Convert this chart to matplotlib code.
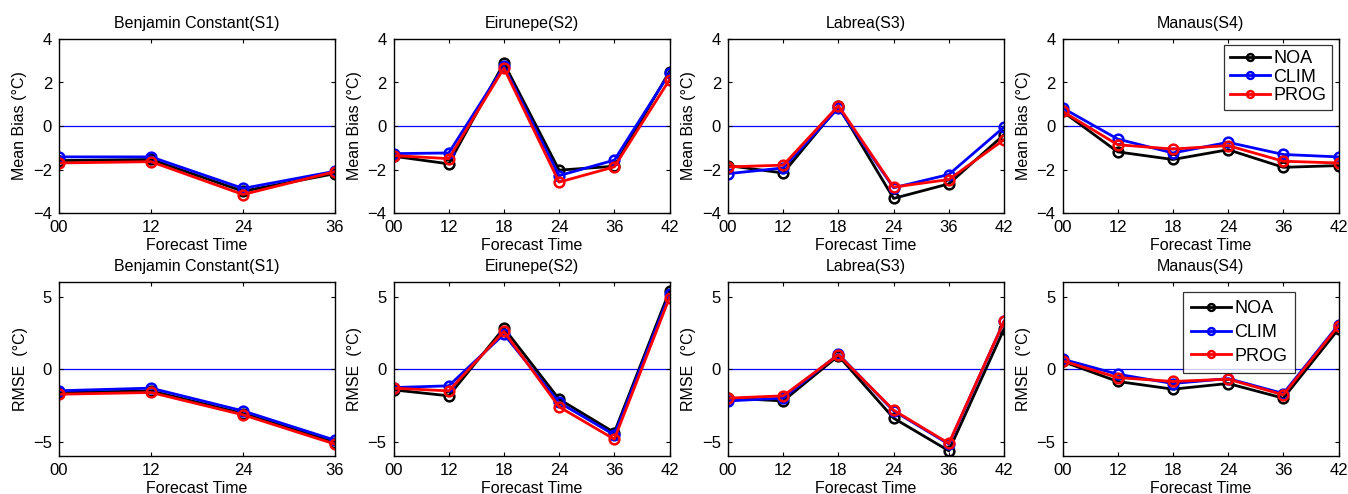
import numpy as np
import matplotlib
matplotlib.use("Agg")
import matplotlib.pyplot as plt

plt.rcParams["font.family"] = ["Liberation Sans", "DejaVu Sans"]

# station names
stations = ["Benjamin Constant(S1)", "Eirunepe(S2)", "Labrea(S3)", "Manaus(S4)"]

# forecast hours per station (S1 has fewer lead times)
hours_s1 = ["00", "12", "24", "36"]
hours_all = ["00", "12", "18", "24", "36", "42"]

# mean bias (°C)
bias_noa = [
    [-1.59, -1.54, -3.00, -2.19],
    [-1.39, -1.74, 2.89, -2.03, -1.85, 2.50],
    [-1.82, -2.16, 0.90, -3.33, -2.66, -0.40],
    [0.67, -1.19, -1.54, -1.09, -1.90, -1.82],
]
bias_clim = [
    [-1.42, -1.42, -2.87, -2.08],
    [-1.27, -1.24, 2.74, -2.28, -1.57, 2.43],
    [-2.19, -1.93, 0.83, -2.84, -2.23, -0.05],
    [0.83, -0.60, -1.24, -0.75, -1.31, -1.42],
]
bias_prog = [
    [-1.70, -1.64, -3.15, -2.10],
    [-1.36, -1.50, 2.66, -2.58, -1.88, 2.13],
    [-1.88, -1.80, 0.93, -2.81, -2.46, -0.63],
    [0.67, -0.86, -1.06, -0.90, -1.62, -1.70],
]

# RMSE (°C)
rmse_noa = [
    [-1.62, -1.51, -3.07, -5.07],
    [-1.44, -1.85, 2.82, -2.08, -4.38, 5.39],
    [-2.01, -2.20, 0.91, -3.39, -5.64, 2.75],
    [0.52, -0.86, -1.39, -1.00, -2.01, 2.75],
]
rmse_clim = [
    [-1.50, -1.32, -2.89, -4.91],
    [-1.28, -1.16, 2.40, -2.31, -4.54, 5.16],
    [-2.20, -2.01, 1.02, -2.89, -5.18, 3.28],
    [0.68, -0.36, -1.00, -0.66, -1.69, 3.05],
]
rmse_prog = [
    [-1.74, -1.62, -3.16, -5.18],
    [-1.32, -1.51, 2.59, -2.61, -4.84, 4.93],
    [-2.01, -1.85, 0.98, -2.84, -5.13, 3.28],
    [0.56, -0.59, -0.86, -0.70, -1.78, 2.98],
]

series_names = ["NOA", "CLIM", "PROG"]
series_colors = ["black", "#0000ff", "#ff0000"]

W, H = 1348, 494
fig = plt.figure(figsize=(W / 100, H / 100), dpi=100)

left0, width, pitch = 59 / W, 276 / W, 334.5 / W
row_bottoms = [1 - 213 / H, 1 - 456 / H]
height = 174 / H


def draw_panel(ax, hours, curves, ylim, yticks, ylabel, title):
    x = np.arange(len(hours))
    for vals, name, col in zip(curves, series_names, series_colors):
        ax.plot(x, vals, color=col, lw=2, marker="o", ms=7, mfc="none",
                mew=1.8, label=name)
    ax.axhline(0, color="#0000ff", lw=0.9, zorder=0)
    ax.set_xlim(0, len(hours) - 1)
    ax.set_ylim(*ylim)
    ax.set_xticks(x)
    ax.set_xticklabels(hours)
    ax.set_yticks(yticks)
    ax.set_yticklabels([str(v).replace("-", "\u2212") for v in yticks])
    ax.tick_params(direction="in", top=True, right=True, labelsize=12,
                   length=3, width=0.8)
    ax.tick_params(axis="x", pad=5)
    ax.tick_params(axis="y", pad=5)
    for sp in ax.spines.values():
        sp.set_linewidth(1.0)
    ax.set_xlabel("Forecast Time", fontsize=11.5, labelpad=2)
    ax.set_ylabel(ylabel, fontsize=11.5, labelpad=4)
    ax.set_title(title, fontsize=11.5, pad=8)


def add_legend(ax, anchor, spacing, pad):
    leg = ax.legend(loc="upper right", bbox_to_anchor=anchor,
                    fontsize=13, frameon=True, fancybox=False,
                    edgecolor="black", handlelength=2.2,
                    handletextpad=0.2, labelspacing=spacing,
                    borderpad=pad, borderaxespad=0, markerscale=0.7)
    leg.get_frame().set_linewidth(0.9)


for i, name in enumerate(stations):
    hours = hours_s1 if i == 0 else hours_all
    ax_b = fig.add_axes([left0 + i * pitch, row_bottoms[0], width, height])
    draw_panel(ax_b, hours, [bias_noa[i], bias_clim[i], bias_prog[i]],
               (-4, 4), [-4, -2, 0, 2, 4], "Mean Bias (\u00b0C)", name)
    ax_r = fig.add_axes([left0 + i * pitch, row_bottoms[1], width, height])
    draw_panel(ax_r, hours, [rmse_noa[i], rmse_clim[i], rmse_prog[i]],
               (-6, 6), [-5, 0, 5], "RMSE  (\u00b0C)", name)

    if i == 3:
        add_legend(ax_b, (0.975, 0.966), 0.08, 0.3)
        add_legend(ax_r, (0.844, 0.943), 0.38, 0.45)

fig.savefig("out.png", dpi=100)
